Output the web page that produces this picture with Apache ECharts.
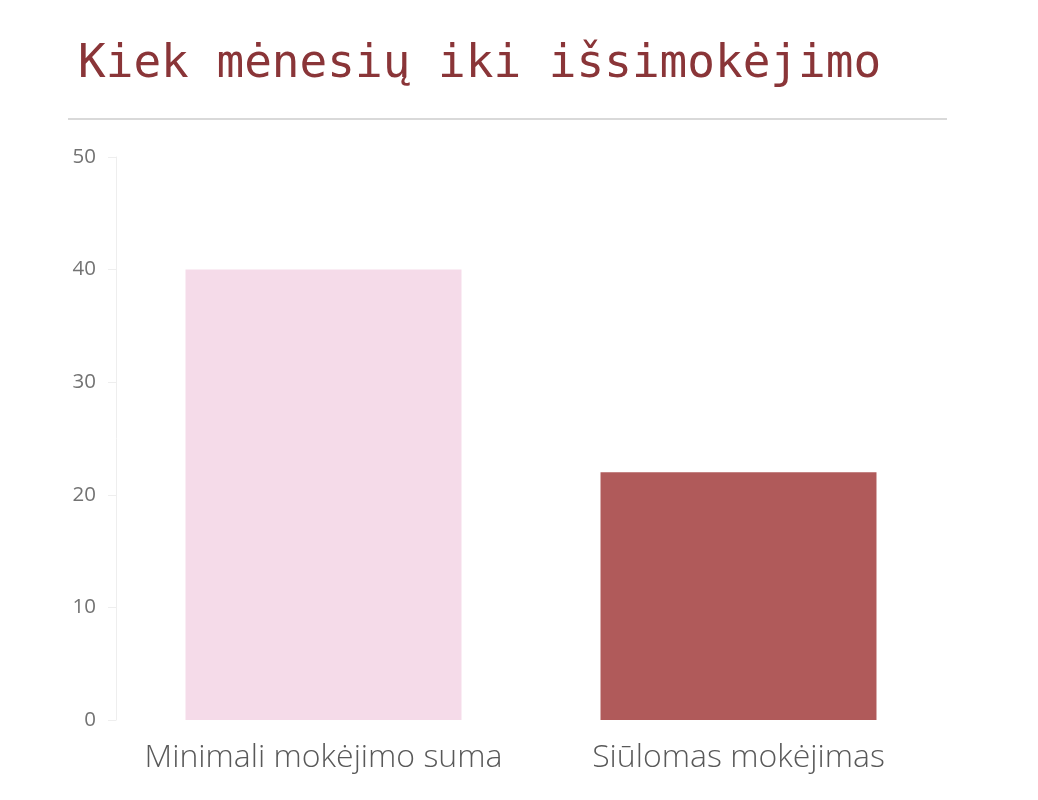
<!DOCTYPE html>
<html>
<head>
<meta charset="utf-8">
<script src="https://cdn.jsdelivr.net/npm/echarts@6/dist/echarts.min.js"></script>
<style>html,body{margin:0;padding:0;background:#fff}#c{width:1038px;height:800px}</style>
</head>
<body>
<div id="c"></div>
<script>
const categories = ['Minimali mokėjimo suma', 'Siūlomas mokėjimas'];
const values = [40, 22];
const barColors = ['#f5dbe9', '#b05a5a'];
const yTicks = { min: 0, max: 50, interval: 10 };

const chart = echarts.init(document.getElementById('c'));
chart.setOption({
  animation: false,
  title: {
    text: 'Kiek mėnesių iki išsimokėjimo',
    left: 73, top: 37,
    textStyle: { fontFamily: 'DejaVu Sans Mono', fontSize: 46, fontWeight: 'normal', color: '#8a3538' }
  },
  graphic: [{
    type: 'line', shape: { x1: 68, y1: 119, x2: 947, y2: 119 },
    style: { stroke: '#d9d9d9', lineWidth: 2 }
  }],
  grid: { left: 116, right: 92, top: 157, bottom: 80, containLabel: false },
  xAxis: {
    type: 'category', data: categories,
    axisLine: { show: false }, axisTick: { show: false },
    axisLabel: { interval: 0, hideOverlap: false, color: '#595959', fontSize: 32, fontFamily: 'Open Sans', fontWeight: 300, margin: 22 }
  },
  yAxis: {
    type: 'value', min: yTicks.min, max: yTicks.max, interval: yTicks.interval,
    axisLine: { show: true, lineStyle: { color: '#eeeeee', width: 1 } },
    axisTick: { show: true, length: 8, lineStyle: { color: '#eeeeee' } },
    splitLine: { show: false },
    axisLabel: { color: '#737373', fontSize: 20.5, fontFamily: 'Open Sans', margin: 20 }
  },
  series: [{
    type: 'bar', barWidth: '66.5%',
    data: values.map((v, i) => ({ value: v, itemStyle: { color: barColors[i] } }))
  }]
});
</script>
</body>
</html>
